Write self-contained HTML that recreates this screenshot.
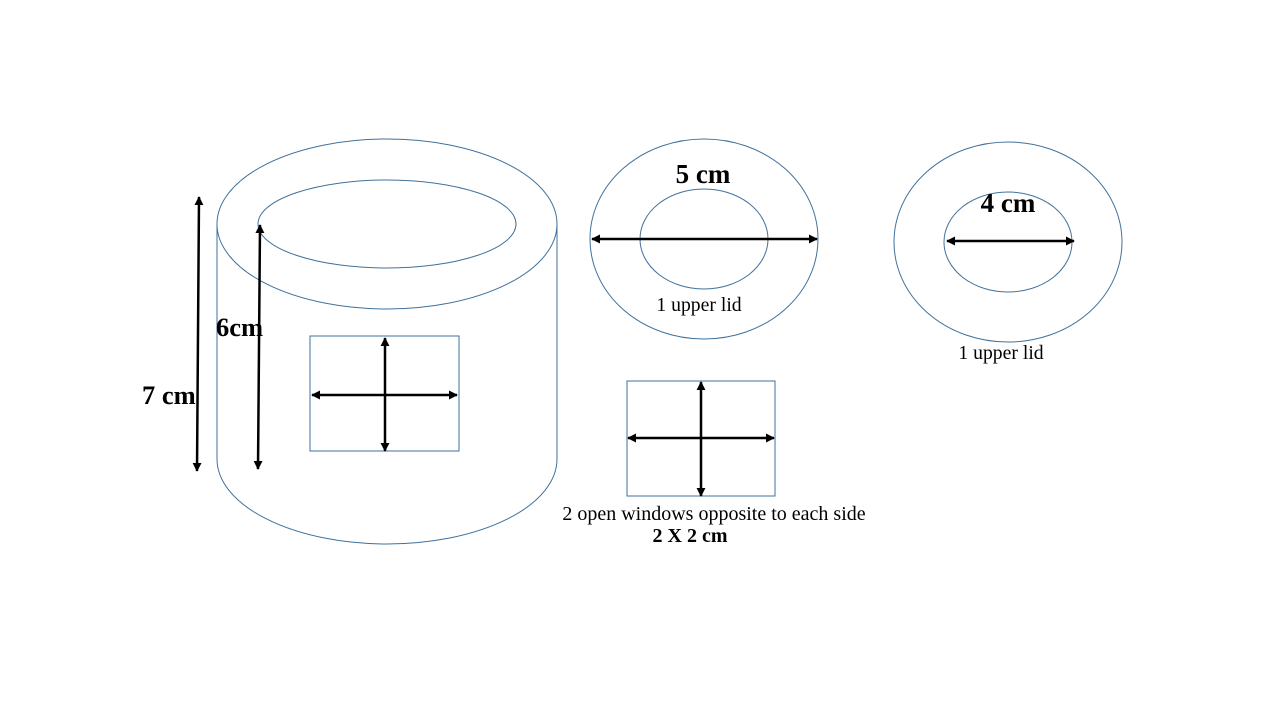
<!DOCTYPE html>
<html><head><meta charset="utf-8"><style>
html,body{margin:0;padding:0;background:#fff;}
svg{display:block;}
text{font-family:"Liberation Serif",serif;fill:#000;}
</style></head><body>
<svg width="1280" height="720" viewBox="0 0 1280 720">
<defs>
<marker id="ah" viewBox="0 0 10 10" refX="9" refY="5" markerWidth="3.6" markerHeight="3.6" orient="auto-start-reverse">
<path d="M0,0 L10,5 L0,10 z" fill="#000"/>
</marker>
</defs>
<g fill="none" stroke="#41719c" stroke-width="1">
<ellipse cx="387" cy="224" rx="170" ry="85"/>
<ellipse cx="387" cy="224" rx="129" ry="44"/>
<line x1="217" y1="224" x2="217" y2="459"/>
<line x1="557" y1="224" x2="557" y2="459"/>
<path d="M217,459 A170,85 0 0 0 557,459"/>
<rect x="310" y="336" width="149" height="115"/>
</g>
<g stroke="#000" stroke-width="2.5" marker-start="url(#ah)" marker-end="url(#ah)">
<line x1="199" y1="197" x2="197" y2="471"/>
<line x1="260" y1="225" x2="258" y2="469"/>
<line x1="312" y1="395" x2="457" y2="395"/>
<line x1="385" y1="338" x2="385" y2="451"/>
</g>
<text x="142" y="404" font-size="26.5" font-weight="bold">7 cm</text>
<text x="216" y="336" font-size="26.5" font-weight="bold">6cm</text>

<g fill="none" stroke="#41719c" stroke-width="1">
<ellipse cx="704" cy="239" rx="114" ry="100"/>
<ellipse cx="704" cy="239" rx="64" ry="50"/>
</g>
<line x1="592" y1="239" x2="817" y2="239" stroke="#000" stroke-width="2.5" marker-start="url(#ah)" marker-end="url(#ah)"/>
<text x="703" y="183" font-size="27" font-weight="bold" text-anchor="middle">5 cm</text>
<text x="699" y="311" font-size="19.7" text-anchor="middle">1 upper lid</text>

<g fill="none" stroke="#41719c" stroke-width="1">
<ellipse cx="1008" cy="242" rx="114" ry="100"/>
<ellipse cx="1008" cy="242" rx="64" ry="50"/>
</g>
<line x1="947" y1="241" x2="1074" y2="241" stroke="#000" stroke-width="2.5" marker-start="url(#ah)" marker-end="url(#ah)"/>
<text x="1008" y="212" font-size="27" font-weight="bold" text-anchor="middle">4 cm</text>
<text x="1001" y="359" font-size="19.7" text-anchor="middle">1 upper lid</text>

<rect x="627" y="381" width="148" height="115" fill="none" stroke="#41719c" stroke-width="1"/>
<g stroke="#000" stroke-width="2.5" marker-start="url(#ah)" marker-end="url(#ah)">
<line x1="628" y1="438" x2="774" y2="438"/>
<line x1="701" y1="382" x2="701" y2="496"/>
</g>
<text x="714" y="520" font-size="20" text-anchor="middle">2 open windows opposite to each side</text>
<text x="690" y="542" font-size="20" font-weight="bold" text-anchor="middle">2 X 2 cm</text>
</svg>
</body></html>
